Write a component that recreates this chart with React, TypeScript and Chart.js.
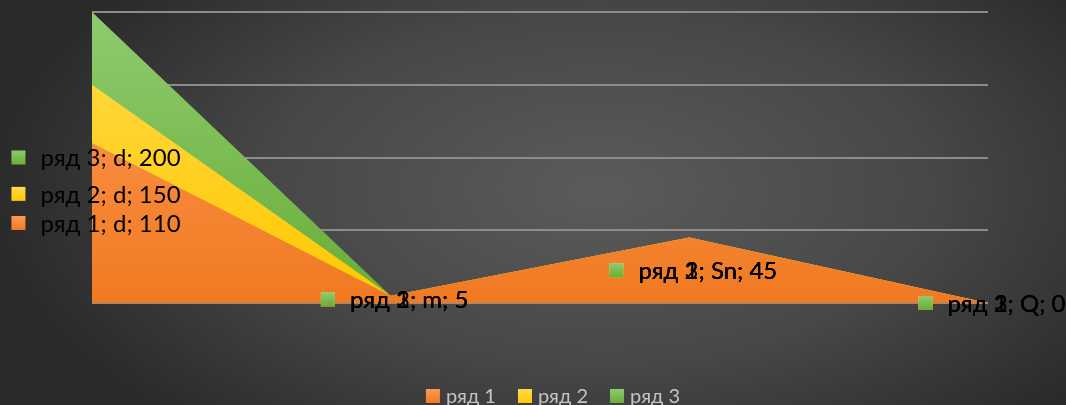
import React, { useEffect, useRef } from "react";
import { Chart, registerables } from "chart.js";

Chart.register(...registerables);

const categories = ["d", "m", "Sn", "Q"];
const seriesNames = ["ряд 1", "ряд 2", "ряд 3"];
const series1 = [110, 5, 45, 0];
const series2 = [150, 5, 45, 0];
const series3 = [200, 5, 45, 0];
const yTicks = [0, 50, 100, 150, 200];

const FONT = "Lato, 'Open Sans', sans-serif";
const palette = [
  { top: "#ff9a55", bottom: "#f07a22" },
  { top: "#ffdb4d", bottom: "#ffc800" },
  { top: "#8fcb6e", bottom: "#68ad38" },
];

function vGrad(ctx: CanvasRenderingContext2D, y0: number, y1: number, c: { top: string; bottom: string }) {
  const g = ctx.createLinearGradient(0, y0, 0, y1);
  g.addColorStop(0, c.top);
  g.addColorStop(1, c.bottom);
  return g;
}

const backgroundPlugin = {
  id: "bgRadial",
  beforeDraw(chart: any) {
    const { ctx, width, height } = chart;
    ctx.save();
    const cx = 600;
    const cy = 190;
    const sx = 1.9;
    ctx.translate(cx, cy);
    ctx.scale(sx, 1);
    const g = ctx.createRadialGradient(0, 0, 0, 0, 0, 320);
    g.addColorStop(0, "#5b5b5b");
    g.addColorStop(0.55, "#474747");
    g.addColorStop(1, "#2a2a2a");
    ctx.fillStyle = g;
    ctx.fillRect(-cx / sx - 10, -cy - 10, width / sx + 20, height + 20);
    ctx.restore();
  },
};

const labelsPlugin = {
  id: "pointLabels",
  afterDatasetsDraw(chart: any) {
    const { ctx } = chart;
    const yScale = chart.scales.y;
    const base = yScale.getPixelForValue(0);
    ctx.save();
    ctx.font = `24px ${FONT}`;
    ctx.textBaseline = "middle";
    ctx.textAlign = "left";
    chart.data.datasets.forEach((ds: any, di: number) => {
      const meta = chart.getDatasetMeta(di);
      meta.data.forEach((pt: any, i: number) => {
        const text = `${ds.label}; ${chart.data.labels[i]}; ${ds.data[i]}`;
        const tw = ctx.measureText(text).width;
        const box = 14;
        const gap = 15;
        const total = box + gap + tw;
        const cx = pt.x + 4;
        const midY = (pt.y + base) / 2;
        const left = cx - total / 2;
        ctx.fillStyle = vGrad(ctx, midY - box / 2, midY + box / 2, palette[di]);
        ctx.fillRect(left, midY - box / 2, box, box);
        ctx.fillStyle = "#000000";
        ctx.fillText(text, left + box + gap, midY + 1);
      });
    });
    ctx.restore();
  },
};

const legendPlugin = {
  id: "customLegend",
  afterDraw(chart: any) {
    const { ctx } = chart;
    ctx.save();
    ctx.font = `20px ${FONT}`;
    ctx.textBaseline = "middle";
    const box = 14;
    const gap = 6;
    const itemGap = 22;
    const names = chart.data.datasets.map((d: any) => d.label);
    const widths = names.map((n: string) => box + gap + ctx.measureText(n).width);
    const total = widths.reduce((a: number, b: number) => a + b, 0) + itemGap * (names.length - 1);
    let x = 553 - total / 2;
    const cy = 396;
    names.forEach((n: string, i: number) => {
      ctx.fillStyle = vGrad(ctx, cy - box / 2, cy + box / 2, palette[i]);
      ctx.fillRect(x, cy - box / 2, box, box);
      ctx.fillStyle = "#c4c4c4";
      ctx.fillText(n, x + box + gap, cy + 1);
      x += widths[i] + itemGap;
    });
    ctx.restore();
  },
};

export default function App() {
  const ref = useRef<HTMLCanvasElement | null>(null);
  useEffect(() => {
    document.body.style.margin = "0";
    const canvas = ref.current;
    if (!canvas) return;
    const values = [series1, series2, series3];
    const chart = new Chart(canvas, {
      type: "line",
      data: {
        labels: categories,
        datasets: values.map((v, i) => ({
          label: seriesNames[i],
          data: v,
          fill: "origin",
          tension: 0,
          pointRadius: 0,
          pointHoverRadius: 0,
          borderWidth: 0,
          borderColor: "rgba(0,0,0,0)",
          backgroundColor: (context: any) => {
            const ca = context.chart.chartArea;
            if (!ca) return palette[i].bottom;
            return vGrad(context.chart.ctx, ca.top, ca.bottom, palette[i]);
          },
        })),
      },
      options: {
        animation: false,
        responsive: false,
        maintainAspectRatio: false,
        events: [],
        layout: { padding: { left: 92, right: 78, top: 12, bottom: 102 } },
        plugins: {
          legend: { display: false },
          tooltip: { enabled: false },
        },
        scales: {
          x: {
            type: "category",
            display: false,
            offset: false,
          },
          y: {
            min: yTicks[0],
            max: yTicks[yTicks.length - 1],
            afterBuildTicks: (scale: any) => {
              scale.ticks = yTicks.map((v) => ({ value: v }));
            },
            ticks: { display: false },
            border: { display: false },
            grid: { color: "#8c8c8c", lineWidth: 2, drawTicks: false },
          },
        },
      },
      plugins: [backgroundPlugin, labelsPlugin, legendPlugin],
    });
    return () => chart.destroy();
  }, []);
  return <canvas ref={ref} width={1066} height={405} style={{ display: "block", width: 1066, height: 405 }} />;
}
